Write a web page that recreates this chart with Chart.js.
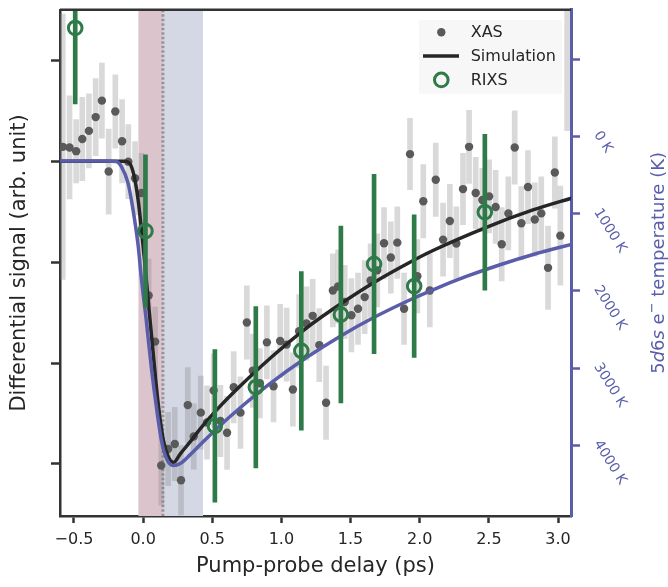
<!DOCTYPE html>
<html>
<head>
<meta charset="utf-8">
<script src="https://cdn.jsdelivr.net/npm/chart.js@4.4.1/dist/chart.umd.min.js"></script>
<style>
  body { margin: 0; background: #fff; }
  #wrap { width: 668px; height: 587px; }
</style>
</head>
<body>
<div id="wrap"><canvas id="chart" width="668" height="587"></canvas></div>
<script>
// XAS differential signal with error bars
const xasDelay = [-0.581, -0.532, -0.484, -0.440, -0.392, -0.343, -0.298, -0.249, -0.201, -0.152,
    -0.107, -0.058, -0.012, 0.040, 0.087, 0.131, 0.181, 0.229, 0.274, 0.323,
    0.366, 0.417, 0.462, 0.510, 0.559, 0.607, 0.655, 0.704, 0.750, 0.793,
    0.844, 0.895, 0.943, 0.991, 1.038, 1.083, 1.128, 1.181, 1.226, 1.274,
    1.323, 1.372, 1.410, 1.458, 1.506, 1.554, 1.602, 1.645, 1.693, 1.742,
    1.791, 1.838, 1.887, 1.930, 1.983, 2.026, 2.073, 2.116, 2.169, 2.218,
    2.265, 2.313, 2.357, 2.405, 2.453, 2.502, 2.549, 2.593, 2.641, 2.687,
    2.735, 2.783, 2.832, 2.879, 2.928, 2.977, 3.017, 3.066];
const xasSignal = [0.144, 0.138, 0.101, 0.221, 0.302, 0.439, 0.602, -0.101, 0.494, 0.199,
    -0.003, -0.167, -0.314, -1.331, -1.788, -3.016, -2.852, -2.803, -3.163, -2.417,
    -2.728, -2.492, -2.590, -2.272, -2.574, -2.692, -2.240, -2.492, -1.598, -2.076,
    -2.200, -1.795, -2.230, -1.781, -1.817, -2.262, -1.685, -1.608, -1.532, -1.822,
    -2.394, -1.280, -1.241, -1.395, -1.526, -1.461, -1.346, -1.182, -1.081, -0.812,
    -0.953, -0.806, -1.461, 0.072, -1.139, -0.396, -1.280, -0.182, -0.776, -0.592,
    -0.815, -0.275, 0.144, -0.314, -0.383, -0.347, -0.452, -0.822, -0.516, 0.138,
    -0.614, -0.255, -0.577, -0.516, -1.056, -0.111, -0.737, 1.650];
const xasError = [1.316, 0.511, 0.314, 0.413, 0.368, 0.383, 0.373, 0.422, 0.363, 0.413,
    0.368, 0.363, 0.393, 0.363, 0.344, 0.393, 0.363, 0.363, 0.344, 0.373,
    0.324, 0.363, 0.363, 0.363, 0.354, 0.363, 0.354, 0.354, 0.363, 0.363,
    0.344, 0.363, 0.354, 0.363, 0.363, 0.363, 0.363, 0.363, 0.363, 0.363,
    0.363, 0.363, 0.363, 0.363, 0.363, 0.354, 0.363, 0.363, 0.363, 0.354,
    0.354, 0.354, 0.354, 0.354, 0.363, 0.363, 0.363, 0.363, 0.363, 0.363,
    0.363, 0.354, 0.363, 0.354, 0.314, 0.363, 0.363, 0.363, 0.363, 0.363,
    0.363, 0.363, 0.363, 0.363, 0.413, 0.354, 0.491, 1.346];

// RIXS
const rixsDelay = [-0.491, 0.017, 0.519, 0.815, 1.144, 1.430, 1.670, 1.960, 2.471];
const rixsSignal = [1.323, -0.691, -2.623, -2.240, -1.879, -1.519, -1.018, -1.238, -0.504];
const rixsError = [0.753, 0.756, 0.756, 0.800, 0.786, 0.876, 0.889, 0.707, 0.773];

// simulation (left axis)
const simDelay = [-0.61, -0.133, -0.097, -0.065, -0.036, -0.012, 0.007, 0.038, 0.075, 0.111,
    0.147, 0.181, 0.220, 0.269, 0.341, 0.414, 0.559, 0.689, 0.929, 1.176,
    1.432, 1.678, 1.916, 2.096, 2.473, 2.819, 3.11];
const simSignal = [0, 0, -0.020, -0.147, -0.383, -0.678, -0.933, -1.395, -1.935, -2.426,
    -2.770, -2.927, -2.986, -2.900, -2.780, -2.650, -2.425, -2.245, -1.940, -1.658,
    -1.410, -1.194, -1.010, -0.884, -0.659, -0.482, -0.360];

// electron temperature (right axis)
const tempDelay = [-0.61, -0.254, -0.196, -0.157, -0.109, -0.073, -0.036, -0.012, 0.024, 0.060,
    0.097, 0.133, 0.169, 0.218, 0.269, 0.341, 0.414, 0.559, 0.704, 0.929,
    1.176, 1.432, 1.678, 1.916, 2.104, 2.342, 2.581, 2.827, 3.11];
const tempKelvin = [320, 320, 325, 392, 606, 949, 1414, 1850, 2401, 3004,
    3517, 3940, 4171, 4260, 4235, 4120, 3990, 3740, 3510, 3185,
    2870, 2580, 2336, 2128, 1980, 1811, 1662, 1526, 1393];

const xTicks = [-0.5, 0, 0.5, 1, 1.5, 2, 2.5, 3];
const signalTicks = [1, 0, -1, -2, -3];
const tempTicks = [-1000, 0, 1000, 2000, 3000, 4000];

const pumpBand = [-0.034, 0.143];
const probeBand = [0.143, 0.433];
const zeroLine = 0.143;

const font = '"DejaVu Sans", sans-serif';
const dark = '#262626';
const blue = '#5a5eaa';
const green = '#2e7a48';

const decor = {
    id: 'decor',
    beforeDatasetsDraw(chart) {
        const {ctx, chartArea: a, scales: {x}} = chart;
        ctx.save();
        ctx.fillStyle = '#dcc4cc';
        let p0 = x.getPixelForValue(pumpBand[0]), p1 = x.getPixelForValue(pumpBand[1]);
        ctx.fillRect(p0, a.top, p1 - p0, a.bottom - a.top);
        ctx.fillStyle = '#d4d7e4';
        p0 = x.getPixelForValue(probeBand[0]); p1 = x.getPixelForValue(probeBand[1]);
        ctx.fillRect(p0, a.top, p1 - p0, a.bottom - a.top);
        const z = x.getPixelForValue(zeroLine);
        ctx.strokeStyle = '#959595';
        ctx.lineWidth = 3;
        ctx.setLineDash([2.5, 2]);
        ctx.beginPath();
        ctx.moveTo(z, a.top);
        ctx.lineTo(z, a.bottom);
        ctx.stroke();
        ctx.restore();
    },
    afterDraw(chart) {
        const {ctx, chartArea: a} = chart;
        ctx.save();
        // top spine
        ctx.strokeStyle = '#333';
        ctx.lineWidth = 2.5;
        ctx.beginPath();
        ctx.moveTo(a.left, a.top);
        ctx.lineTo(a.right, a.top);
        ctx.stroke();

        // legend
        const bx = a.right - 152, by = a.top + 10;
        ctx.fillStyle = 'rgba(246,246,246,0.92)';
        ctx.fillRect(bx, by, 143, 74);
        const ds = chart.data.datasets;
        const rows = [ds[1], ds[2], ds[5]];
        ctx.font = '16px ' + font;
        ctx.textBaseline = 'middle';
        rows.forEach((d, i) => {
            const y = by + 12.5 + i * 23.8;
            const cx = bx + 22.3;
            if (i === 0) {
                ctx.fillStyle = d.pointBackgroundColor;
                ctx.beginPath();
                ctx.arc(cx, y, d.pointRadius, 0, Math.PI * 2);
                ctx.fill();
            } else if (i === 1) {
                ctx.strokeStyle = d.borderColor;
                ctx.lineWidth = d.borderWidth;
                ctx.beginPath();
                ctx.moveTo(bx + 4, y);
                ctx.lineTo(bx + 40, y);
                ctx.stroke();
            } else {
                ctx.strokeStyle = d.pointBorderColor;
                ctx.lineWidth = d.pointBorderWidth;
                ctx.beginPath();
                ctx.arc(cx, y, d.pointRadius, 0, Math.PI * 2);
                ctx.stroke();
            }
            ctx.fillStyle = dark;
            ctx.fillText(d.label, bx + 51.7, y + 1);
        });

        // right axis title, reading upwards
        const parts = [
            {t: '5'}, {t: 'd', it: true}, {t: '6'}, {t: 's', it: true},
            {t: ' e'}, {t: '\u2212', sup: true}, {t: ' temperature (K)'}
        ];
        const fontOf = p => (p.it ? 'italic ' : '') + (p.sup ? '13px ' : '18px ') + font;
        let total = 0;
        parts.forEach(p => { ctx.font = fontOf(p); total += ctx.measureText(p.t).width; });
        ctx.translate(chart.width - 9, (a.top + a.bottom) / 2);
        ctx.rotate(-Math.PI / 2);
        ctx.fillStyle = blue;
        ctx.textAlign = 'left';
        let cx = -total / 2;
        parts.forEach(p => {
            ctx.font = fontOf(p);
            ctx.fillText(p.t, cx, p.sup ? -6 : 0);
            cx += ctx.measureText(p.t).width;
        });
        ctx.restore();
    }
};

const fmtX = v => (v < 0 ? '\u2212' : '') + Math.abs(v).toFixed(1);

new Chart(document.getElementById('chart'), {
    type: 'line',
    data: {
        datasets: [
            {
                type: 'bar',
                label: 'XAS error',
                data: xasDelay.map((x, i) => ({x: x, y: [xasSignal[i] - xasError[i], xasSignal[i] + xasError[i]]})),
                backgroundColor: 'rgba(128,128,128,0.3)',
                borderWidth: 0,
                barThickness: 5,
                grouped: false,
                yAxisID: 'y',
                order: 6
            },
            {
                label: 'XAS',
                data: xasDelay.map((x, i) => ({x: x, y: xasSignal[i]})),
                showLine: false,
                pointRadius: 4.2,
                pointBorderWidth: 0,
                pointBackgroundColor: '#5a5a5a',
                yAxisID: 'y',
                order: 5
            },
            {
                label: 'Simulation',
                data: simDelay.map((x, i) => ({x: x, y: simSignal[i]})),
                borderColor: dark,
                borderWidth: 3.5,
                pointRadius: 0,
                cubicInterpolationMode: 'monotone',
                yAxisID: 'y',
                order: 4
            },
            {
                label: 'Temperature',
                data: tempDelay.map((x, i) => ({x: x, y: tempKelvin[i]})),
                borderColor: blue,
                borderWidth: 3.5,
                pointRadius: 0,
                cubicInterpolationMode: 'monotone',
                yAxisID: 'yT',
                order: 3
            },
            {
                type: 'bar',
                label: 'RIXS error',
                data: rixsDelay.map((x, i) => ({x: x, y: [rixsSignal[i] - rixsError[i], rixsSignal[i] + rixsError[i]]})),
                backgroundColor: green,
                borderWidth: 0,
                barThickness: 4,
                grouped: false,
                yAxisID: 'y',
                order: 2
            },
            {
                label: 'RIXS',
                data: rixsDelay.map((x, i) => ({x: x, y: rixsSignal[i]})),
                showLine: false,
                pointRadius: 6.8,
                pointBorderWidth: 3,
                pointBorderColor: green,
                pointBackgroundColor: 'rgba(0,0,0,0)',
                yAxisID: 'y',
                order: 1
            }
        ]
    },
    options: {
        responsive: false,
        animation: false,
        devicePixelRatio: 1,
        layout: { padding: { top: 5, left: 0, right: 0, bottom: 0 } },
        plugins: { legend: { display: false }, tooltip: { enabled: false } },
        scales: {
            x: {
                type: 'linear',
                min: -0.601,
                max: 3.094,
                offset: false,
                afterBuildTicks: s => { s.ticks = xTicks.map(v => ({value: v})); },
                afterFit: s => { s.height = 71; s.paddingLeft = 0; s.paddingRight = 0; },
                grid: { offset: false, drawOnChartArea: false, drawTicks: true, tickLength: 7, tickWidth: 2.5, tickColor: '#333' },
                border: { color: '#333', width: 2.5 },
                ticks: { font: { family: font, size: 16 }, color: dark, padding: 7, maxRotation: 0, callback: fmtX },
                title: { display: true, text: 'Pump-probe delay (ps)', font: { family: font, size: 21 }, color: dark, padding: { top: 0, bottom: 8 } }
            },
            y: {
                position: 'left',
                min: -3.517,
                max: 1.503,
                afterBuildTicks: s => { s.ticks = signalTicks.map(v => ({value: v})); },
                afterFit: s => { s.width = 60; s.paddingTop = 0; s.paddingBottom = 0; },
                grid: { drawOnChartArea: false, drawTicks: true, tickLength: 9, tickWidth: 2.5, tickColor: '#333' },
                border: { color: '#333', width: 2.5 },
                ticks: { callback: () => '' },
                title: { display: true, text: 'Differential signal (arb. unit)', font: { family: font, size: 21 }, color: dark, padding: { top: 7, bottom: 0 } }
            },
            yT: {
                position: 'right',
                reverse: true,
                min: -1637,
                max: 4914,
                afterBuildTicks: s => { s.ticks = tempTicks.map(v => ({value: v})); },
                afterFit: s => { s.width = 97; s.paddingTop = 0; s.paddingBottom = 0; },
                grid: { drawOnChartArea: false, drawTicks: true, tickLength: 9, tickWidth: 2.5, tickColor: blue },
                border: { color: blue, width: 3 },
                ticks: {
                    font: { family: font, size: 14 }, color: blue, padding: 11,
                    align: 'end',
                    minRotation: -58, maxRotation: -58,
                    callback: v => v >= 0 ? v + ' K' : ''
                }
            }
        }
    },
    plugins: [decor]
});
</script>
</body>
</html>
